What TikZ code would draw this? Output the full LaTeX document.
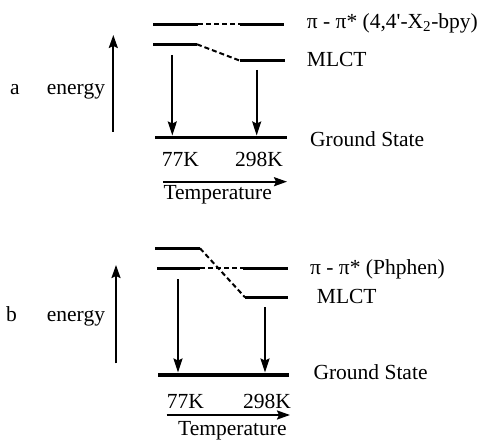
\documentclass[tikz,border=0pt]{standalone}
\usepackage{fontspec}
\setmainfont{Liberation Serif}
\usetikzlibrary{arrows.meta}
\begin{document}
\begin{tikzpicture}[x=1pt,y=-1pt,
  level/.style={line width=3.4pt},
  corr/.style={line width=2pt, dash pattern=on 5pt off 3pt},
  trans/.style={line width=2pt,-{Stealth[length=14pt,width=9pt,inset=2pt]}},
  axis/.style={line width=2pt,-{Stealth[length=13pt,width=9pt,inset=2pt]}},
  lbl/.style={anchor=base west,inner sep=0pt,font=\fontsize{21.5}{24}\selectfont}]
\useasboundingbox (0,0) rectangle (483,441);
% ---------- panel a ----------
\coordinate (aPL1) at (153,24.3); \coordinate (aPL2) at (198,24.3);
\coordinate (aPR1) at (240,24.3); \coordinate (aPR2) at (284,24.3);
\coordinate (aML1) at (153,44.3); \coordinate (aML2) at (197,44.3);
\coordinate (aMR1) at (240,60.7); \coordinate (aMR2) at (285,60.7);
\coordinate (aG1) at (155,137.7); \coordinate (aG2) at (287,137.7);
\coordinate (aA1s) at (172.3,55); \coordinate (aA1e) at (172.3,135.5);
\coordinate (aA2s) at (256.7,70); \coordinate (aA2e) at (256.7,135.5);
\coordinate (aE1) at (113.3,131.7); \coordinate (aE2) at (113.3,35);
\coordinate (aT1) at (163.3,181.7); \coordinate (aT2) at (287,181.7);
\draw[level] (aPL1) -- (aPL2);
\draw[level] (aPR1) -- (aPR2);
\draw[corr] (aPL2) -- (aPR1);
\draw[level] (aML1) -- (aML2);
\draw[level] (aMR1) -- (aMR2);
\draw[corr] (aML2) -- (aMR1);
\draw[level] (aG1) -- (aG2);
\draw[trans] (aA1s) -- (aA1e);
\draw[trans] (aA2s) -- (aA2e);
\draw[axis] (aE1) -- (aE2);
\draw[axis] (aT1) -- (aT2);
\node[lbl] (aLab) at (10,95) {a};
\node[lbl] (aEn) at (46.7,95) {energy};
\node[lbl] (aPi) at (306.7,28.3) {π - π* (4,4\textquotesingle-X\textsubscript{2}-bpy)};
\node[lbl] (aMl) at (306.7,67) {MLCT};
\node[lbl] (aGs) at (310,146.5) {Ground State};
\node[lbl] (a77) at (161.7,166.5) {77K};
\node[lbl] (a298) at (235,166.5) {298K};
\node[lbl] (aTe) at (163.3,199.5) {Temperature};
% ---------- panel b ----------
\coordinate (bUL1) at (155,248.3); \coordinate (bUL2) at (200,248.3);
\coordinate (bMR1) at (245,297.3); \coordinate (bMR2) at (288,297.3);
\coordinate (bPL1) at (157,268.3); \coordinate (bPL2) at (200,268.3);
\coordinate (bPR1) at (243,268.3); \coordinate (bPR2) at (288,268.3);
\coordinate (bG1) at (158,375); \coordinate (bG2) at (289,375);
\coordinate (bA1s) at (178,279.3); \coordinate (bA1e) at (178,372.5);
\coordinate (bA2s) at (265,307.3); \coordinate (bA2e) at (265,372.5);
\coordinate (bE1) at (116,363.3); \coordinate (bE2) at (116,265);
\coordinate (bT1) at (166.7,415); \coordinate (bT2) at (290,415);
\draw[level] (bUL1) -- (bUL2);
\draw[corr] (bUL2) -- (bMR1);
\draw[level] (bMR1) -- (bMR2);
\draw[level] (bPL1) -- (bPL2);
\draw[corr] (bPL2) -- (bPR1);
\draw[level] (bPR1) -- (bPR2);
\draw[level] (bG1) -- (bG2);
\draw[trans] (bA1s) -- (bA1e);
\draw[trans] (bA2s) -- (bA2e);
\draw[axis] (bE1) -- (bE2);
\draw[axis] (bT1) -- (bT2);
\node[lbl] (bLab) at (6,321.7) {b};
\node[lbl] (bEn) at (46.7,321.7) {energy};
\node[lbl] (bPi) at (310,274.3) {π - π* (Phphen)};
\node[lbl] (bMl) at (316.7,303.3) {MLCT};
\node[lbl] (bGs) at (313.3,379.5) {Ground State};
\node[lbl] (b77) at (166.7,408.3) {77K};
\node[lbl] (b298) at (243,408.3) {298K};
\node[lbl] (bTe) at (178,436) {Temperature};
\end{tikzpicture}
\end{document}
